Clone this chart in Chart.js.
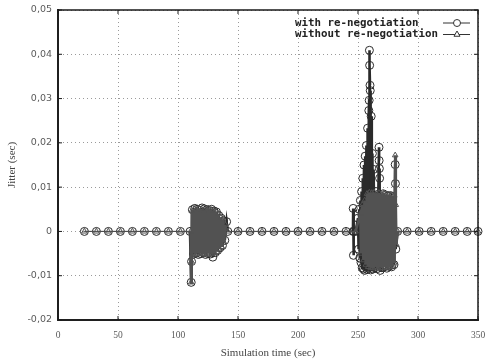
<!DOCTYPE html>
<html lang="en">
<head>
    <meta charset="UTF-8">
    <title>Jitter</title>
    <script src="https://cdn.jsdelivr.net/npm/chart.js"></script>
    <style>
        body { margin: 0; background: #fff; }
        #box { width: 485px; height: 364px; }
    </style>
</head>
<body>
    <div id="box"><canvas id="jitterChart" width="485" height="364"></canvas></div>
    <script>
        // tick values
        const xTicks = [0, 50, 100, 150, 200, 250, 300, 350];
        const yTicks = [-0.02, -0.01, 0, 0.01, 0.02, 0.03, 0.04, 0.05];

        // "with re-negotiation" (circles)
        const withTime = [
            22, 32, 42, 52, 62, 72, 82, 92, 102,
            110, 111, 111.3, 112, 113, 114, 115, 116, 117, 118, 119, 120, 121, 122, 123, 124,
            125, 126, 127, 128, 129, 130, 131, 132, 133, 134, 135, 136, 137, 138, 139, 140.5, 141.5,
            150, 160, 170, 180, 190, 200, 210, 220, 230, 240,
            245.8, 246, 246.2, 246.6, 248,
            250, 250.5, 251, 251.5, 252, 252.5, 253, 253.5, 254, 254.5, 255, 255.5, 256, 256.5,
            257, 257.5, 258, 258.5, 259, 259.3, 259.5, 259.7, 260, 260.2, 260.5, 261, 261.5,
            262, 262.5, 263, 264, 265, 266, 267.5, 267.6, 267.8, 268, 268.5, 269, 270, 271,
            272, 273, 274, 275, 276, 277, 278, 279, 280, 281, 281.2, 281.5, 283,
            291, 301, 311, 321, 331, 341, 350
        ];
        const withJitter = [
            0, 0, 0, 0, 0, 0, 0, 0, 0,
            0, -0.0115, -0.0068, 0.0049, -0.0051, 0.0052, -0.0049, 0.005, -0.0052, 0.0048, -0.005, 0.0053, -0.0048, 0.0051, -0.0052, 0.0049,
            -0.005, 0.0047, -0.0051, 0.005, -0.0058, 0.0046, -0.0048, 0.0044, -0.0043, 0.0036, -0.0037, 0.003, -0.0032, 0.0024, -0.002, 0.0022, 0,
            0, 0, 0, 0, 0, 0, 0, 0, 0, 0,
            0, 0.0052, -0.0054, 0, 0,
            0.003, -0.004, 0.005, -0.006, 0.007, -0.007, 0.009, -0.0082, 0.012, -0.0085, 0.015, -0.0088, 0.017, -0.008,
            0.0194, -0.0086, 0.0233, -0.0083, 0.0273, 0.0296, 0.0409, 0.0375, 0.033, 0.0318, -0.0087, 0.026, -0.008,
            0.0176, -0.0085, 0.014, -0.0082, 0.009, -0.0084, 0.019, 0.016, 0.0142, 0.012, -0.0088, 0.008, -0.0082, 0.0085,
            -0.008, 0.0082, -0.0083, 0.008, -0.0079, 0.0081, -0.008, 0.0078, -0.0075, 0.0151, 0.0108, -0.004, 0,
            0, 0, 0, 0, 0, 0, 0
        ];

        // "without re-negotiation" (triangles)
        const withoutTime = [
            22, 32, 42, 52, 62, 72, 82, 92, 102,
            110.5, 111, 111.3, 111.5, 112.5, 113.5, 114.5, 115.5, 116.5, 117.5, 118.5, 119.5, 120.5, 121.5, 122.5,
            123.5, 124.5, 125.5, 126.5, 127.5, 128.5, 129.5, 130.5, 131.5, 132.5, 133.5, 134.5, 135.5, 136.5,
            137.5, 138.5, 139.5, 141.5,
            150, 160, 170, 180, 190, 200, 210, 220, 230, 240,
            248, 252, 252.5, 253.5, 254.5, 255.5, 256.5, 257.5, 258.5, 259.5, 260.5, 261.5, 262.5, 263.5,
            264.5, 265.5, 266.5, 267.5, 268.5, 269.5, 270.5, 271.5, 272.5, 273.5, 274.5, 275.5, 276.5, 277.5,
            278.5, 279.5, 280.5, 281, 281.5, 282, 283,
            291, 301, 311, 321, 331, 341, 350
        ];
        const withoutJitter = [
            0, 0, 0, 0, 0, 0, 0, 0, 0,
            0, -0.0115, -0.0068, 0.0047, -0.005, 0.0051, -0.0052, 0.0049, -0.005, 0.0052, -0.0049, 0.005, -0.0051, 0.0048, -0.0052,
            0.0051, -0.0049, 0.0052, -0.005, 0.0049, -0.0051, 0.0047, -0.0049, 0.0045, -0.0046, 0.004, -0.004, 0.0032, -0.0035,
            0.0027, -0.0025, 0.0015, 0,
            0, 0, 0, 0, 0, 0, 0, 0, 0, 0,
            0, 0.004, -0.005, 0.006, -0.0065, 0.007, -0.0075, 0.0085, -0.008, 0.0088, -0.0082, 0.0087, -0.0083, 0.0088,
            -0.0081, 0.0086, -0.0084, 0.0087, -0.0082, 0.0085, -0.0083, 0.0086, -0.0081, 0.0084, -0.0082, 0.0083, -0.008, 0.0082,
            -0.0079, 0.008, -0.0072, 0.0172, 0.006, -0.003, 0,
            0, 0, 0, 0, 0, 0, 0
        ];

        const toPoints = (xs, ys) => xs.map((x, i) => ({ x: x, y: ys[i] }));

        const fmtY = v => {
            const r = Math.round(v * 100) / 100;
            return r === 0 ? '0' : r.toFixed(2).replace('.', ',');
        };

        // steep jumps are drawn wider so the dense bursts read as a solid block
        const segWidth = c => Math.abs(c.p0.parsed.y - c.p1.parsed.y) > 0.002 ? 2.6 : 1;

        // frame, inward ticks and the gnuplot style key
        const gnuplotFrame = {
            id: 'gnuplotFrame',
            afterDraw(chart) {
                const ctx = chart.ctx;
                const a = chart.chartArea;
                const xs = chart.scales.x, ys = chart.scales.y;
                ctx.save();
                ctx.strokeStyle = '#1a1a1a';
                ctx.lineWidth = 1.5;
                ctx.strokeRect(a.left, a.top, a.right - a.left, a.bottom - a.top);
                ctx.lineWidth = 1;
                ctx.beginPath();
                xTicks.forEach(v => {
                    const p = xs.getPixelForValue(v);
                    ctx.moveTo(p, a.bottom); ctx.lineTo(p, a.bottom - 4);
                    ctx.moveTo(p, a.top); ctx.lineTo(p, a.top + 4);
                });
                yTicks.forEach(v => {
                    const p = ys.getPixelForValue(v);
                    ctx.moveTo(a.left, p); ctx.lineTo(a.left + 4, p);
                    ctx.moveTo(a.right, p); ctx.lineTo(a.right - 4, p);
                });
                ctx.stroke();

                ctx.font = 'bold 10.8px "DejaVu Sans Mono"';
                ctx.textBaseline = 'middle';
                ctx.textAlign = 'left';
                chart.data.datasets.forEach((ds, i) => {
                    const y = a.top + 13 + i * 11.5;
                    ctx.fillStyle = '#222';
                    ctx.fillText(ds.label, 295, y);
                    ctx.strokeStyle = '#333';
                    ctx.lineWidth = 1;
                    ctx.beginPath();
                    ctx.moveTo(443, y); ctx.lineTo(470, y);
                    ctx.stroke();
                    ctx.fillStyle = '#fff';
                    Chart.helpers.drawPoint(ctx, {
                        pointStyle: ds.pointStyle, radius: 3.5, borderWidth: 1, rotation: 0
                    }, 457, y);
                });
                ctx.restore();
            }
        };

        const ctx = document.getElementById('jitterChart').getContext('2d');
        const jitterChart = new Chart(ctx, {
            type: 'scatter',
            data: {
                datasets: [
                    {
                        label: 'with re-negotiation',
                        data: toPoints(withTime, withJitter),
                        showLine: true,
                        borderColor: '#2a2a2a',
                        borderWidth: 1,
                        segment: { borderWidth: segWidth },
                        pointStyle: 'circle',
                        pointRadius: 4,
                        pointBorderColor: '#2a2a2a',
                        pointBackgroundColor: 'rgba(0,0,0,0)',
                        pointBorderWidth: 1,
                        clip: false,
                        order: 1
                    },
                    {
                        label: 'without re-negotiation',
                        data: toPoints(withoutTime, withoutJitter),
                        showLine: true,
                        borderColor: '#525252',
                        borderWidth: 1,
                        segment: { borderWidth: segWidth },
                        pointStyle: 'triangle',
                        pointRadius: 3.2,
                        pointBorderColor: '#525252',
                        pointBackgroundColor: 'rgba(0,0,0,0)',
                        pointBorderWidth: 1,
                        clip: false,
                        order: 0
                    }
                ]
            },
            options: {
                responsive: false,
                animation: false,
                events: [],
                layout: { padding: { top: 10, right: 7, left: 0, bottom: 0 } },
                plugins: { legend: { display: false }, tooltip: { enabled: false } },
                scales: {
                    x: {
                        type: 'linear',
                        min: 0,
                        max: 350,
                        afterBuildTicks: s => { s.ticks = xTicks.map(v => ({ value: v })); },
                        afterFit: s => { s.height = 44; s.paddingLeft = 0; s.paddingRight = 0; },
                        grid: { color: '#9a9a9a', lineWidth: 1, drawTicks: false },
                        border: { display: true, color: '#333', width: 2, dash: [1, 3] },
                        ticks: {
                            padding: 10,
                            color: '#5a5a5a',
                            font: { family: '"Liberation Serif"', size: 9.5 }
                        },
                        title: {
                            display: true,
                            text: 'Simulation time (sec)',
                            color: '#444',
                            font: { family: '"Liberation Serif"', size: 11 },
                            padding: { top: 0, bottom: 4 }
                        }
                    },
                    y: {
                        min: -0.02,
                        max: 0.05,
                        afterBuildTicks: s => { s.ticks = yTicks.map(v => ({ value: v })); },
                        afterFit: s => { s.width = 58; s.paddingTop = 0; s.paddingBottom = 0; },
                        grid: { color: '#9a9a9a', lineWidth: 1, drawTicks: false },
                        border: { display: true, color: '#333', width: 2, dash: [1, 3] },
                        ticks: {
                            padding: 6,
                            color: '#5a5a5a',
                            font: { family: '"DejaVu Sans"', size: 9.5 },
                            callback: v => fmtY(v)
                        },
                        title: {
                            display: true,
                            text: 'Jitter (sec)',
                            color: '#444',
                            font: { family: '"Liberation Serif"', size: 11 },
                            padding: { top: 6, bottom: 0 }
                        }
                    }
                }
            },
            plugins: [gnuplotFrame]
        });
    </script>
</body>
</html>
